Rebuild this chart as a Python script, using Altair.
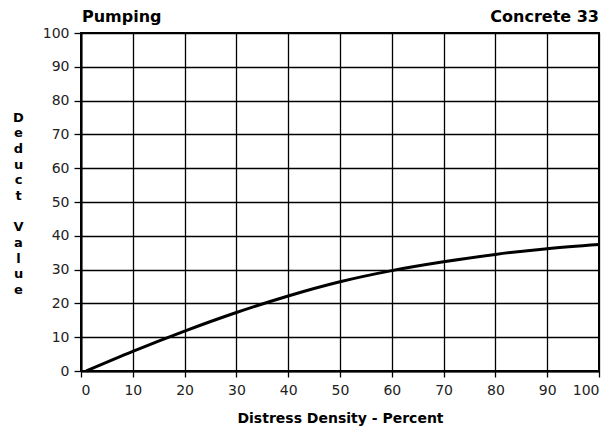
import altair as alt
import pandas as pd

density = [1, 10, 20, 30, 40, 50, 60, 70, 80, 90, 100]
deduct = [0, 5.8, 11.8, 17.3, 22.2, 26.4, 29.7, 32.3, 34.5, 36.2, 37.4]
ticks = [0, 10, 20, 30, 40, 50, 60, 70, 80, 90, 100]
y_title = ["D", "e", "d", "u", "c", "t", "\u200b", "V", "a", "l", "u", "e"]

df = pd.DataFrame({"density": density, "deduct": deduct})
FONT = "DejaVu Sans"

line = alt.Chart(df).mark_line(color="black", strokeWidth=3, interpolate="monotone").encode(
    x=alt.X("density:Q", scale=alt.Scale(domain=[0, 100], nice=False),
            axis=alt.Axis(values=ticks, title="Distress Density - Percent", grid=True,
                          gridColor="black", gridOpacity=1, gridWidth=1.3,
                          domainColor="black", domainWidth=2, tickColor="black", tickSize=6,
                          tickWidth=1.3, labelFont=FONT, labelFontSize=14, labelColor="#222",
                          labelPadding=6, titleFont=FONT, titleFontSize=14, titleFontWeight="bold",
                          titleColor="black", titlePadding=14)),
    y=alt.Y("deduct:Q", scale=alt.Scale(domain=[0, 100], nice=False),
            axis=alt.Axis(values=ticks, title=y_title,
                          grid=True, gridColor="black", gridOpacity=1, gridWidth=1.3,
                          domainColor="black", domainWidth=2, tickColor="black", tickSize=7,
                          tickWidth=1.3, labelFont=FONT, labelFontSize=14, labelColor="#222",
                          labelPadding=5, titleFont=FONT, titleFontSize=13, titleFontWeight="bold",
                          titleColor="black", titleAngle=0, titleAlign="center",
                          titleBaseline="top", titleLineHeight=15.7, titleX=-63, titleY=78)),
)

titles = pd.DataFrame({"t": ["Pumping", "Concrete 33"]})
left_title = alt.Chart(titles.iloc[[0]]).mark_text(
    align="left", baseline="alphabetic", font=FONT, fontSize=16, fontWeight="bold", color="black"
).encode(x=alt.value(1), y=alt.value(-11), text="t:N")
right_title = alt.Chart(titles.iloc[[1]]).mark_text(
    align="right", baseline="alphabetic", font=FONT, fontSize=16, fontWeight="bold", color="black"
).encode(x=alt.value(518), y=alt.value(-11), text="t:N")

chart = alt.layer(line, left_title, right_title).properties(
    width=518, height=338,
    autosize=alt.AutoSizeParams(type="none"),
    padding={"left": 73, "top": 25, "right": 8, "bottom": 56},
).configure_view(stroke="black", strokeWidth=2)

chart.save("out.html", embed_options={"renderer": "svg", "actions": False})
